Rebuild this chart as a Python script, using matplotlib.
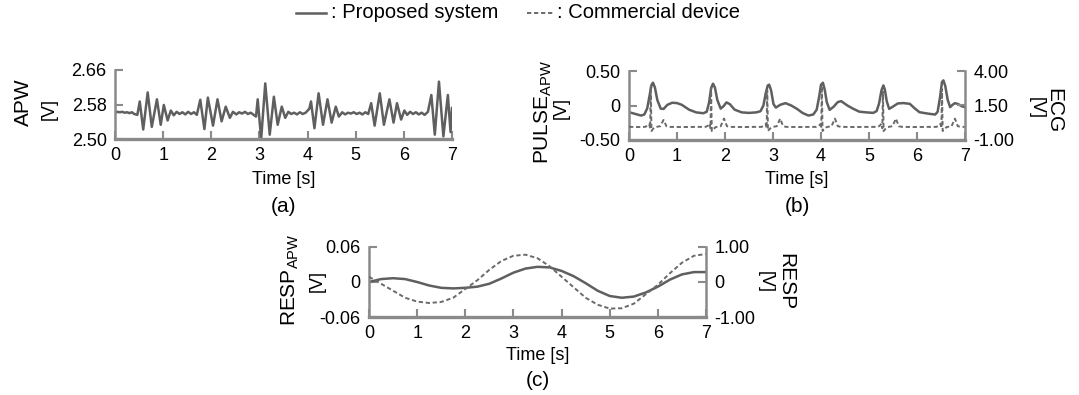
import matplotlib
matplotlib.use("Agg")
import matplotlib.pyplot as plt
from matplotlib.lines import Line2D

plt.rcParams['font.family'] = ['Liberation Sans', 'DejaVu Sans']
plt.rcParams['mathtext.fontset'] = 'custom'
plt.rcParams['mathtext.rm'] = 'Liberation Sans'
plt.rcParams['mathtext.it'] = 'Liberation Sans'

W, H = 1079, 395

# ---------------- data ----------------
time_ticks = [0, 1, 2, 3, 4, 5, 6, 7]

# (a) APW of proposed system
apw_t = [0.00, 0.05, 0.10, 0.15, 0.20, 0.25, 0.30, 0.35, 0.40, 0.464,
         0.514, 0.586, 0.679, 0.764, 0.871, 0.950, 1.014, 1.093,
         1.16, 1.22, 1.28, 1.34, 1.40, 1.46, 1.52, 1.58, 1.64, 1.70,
         1.771, 1.857, 1.929, 2.036, 2.129, 2.214, 2.300, 2.386,
         2.45, 2.52, 2.58, 2.64, 2.70, 2.76, 2.82, 2.88,
         2.929, 2.964, 3.036, 3.121, 3.214, 3.300, 3.379, 3.464, 3.536,
         3.60, 3.66, 3.72, 3.78, 3.84, 3.90, 3.96,
         4.036, 4.071, 4.143, 4.229, 4.321, 4.414, 4.500, 4.586, 4.650,
         4.72, 4.78, 4.84, 4.90, 4.96, 5.02, 5.08, 5.14, 5.20, 5.26,
         5.321, 5.393, 5.500, 5.586, 5.700, 5.786, 5.857, 5.943,
         6.01, 6.07, 6.13, 6.19, 6.25, 6.31, 6.37, 6.43,
         6.500, 6.571, 6.643, 6.729, 6.821, 6.914, 6.970, 7.00]
apw_v = [2.561, 2.563, 2.562, 2.563, 2.561, 2.562, 2.560, 2.562, 2.558, 2.556,
         2.587, 2.522, 2.608, 2.528, 2.592, 2.533, 2.579, 2.543,
         2.566, 2.555, 2.563, 2.558, 2.562, 2.557, 2.563, 2.558, 2.562, 2.556,
         2.591, 2.523, 2.596, 2.531, 2.592, 2.541, 2.575, 2.549,
         2.563, 2.557, 2.562, 2.559, 2.563, 2.558, 2.561, 2.556,
         2.552, 2.592, 2.500, 2.629, 2.510, 2.598, 2.533, 2.575, 2.549,
         2.563, 2.558, 2.561, 2.557, 2.562, 2.558, 2.561,
         2.570, 2.587, 2.525, 2.606, 2.533, 2.592, 2.538, 2.575, 2.552,
         2.562, 2.557, 2.561, 2.559, 2.562, 2.558, 2.561, 2.557, 2.562, 2.558,
         2.583, 2.531, 2.606, 2.533, 2.592, 2.538, 2.583, 2.545,
         2.566, 2.556, 2.563, 2.558, 2.562, 2.557, 2.561, 2.556,
         2.563, 2.602, 2.510, 2.633, 2.506, 2.602, 2.516, 2.572]

# (b) PULSE_APW of proposed system
pulse_t = [0.00, 0.12, 0.25, 0.32, 0.38, 0.43, 0.47, 0.50, 0.54, 0.59, 0.66, 0.72, 0.80, 0.90,
           1.00, 1.10, 1.25, 1.40, 1.55, 1.62, 1.67, 1.71, 1.75, 1.79, 1.84, 1.91, 1.97, 2.03,
           2.10, 2.20, 2.35, 2.50, 2.65, 2.74, 2.80, 2.85, 2.89, 2.92, 2.96, 3.01, 3.06, 3.15,
           3.26, 3.38, 3.50, 3.62, 3.74, 3.84, 3.91, 3.96, 4.00, 4.04, 4.08, 4.12, 4.18, 4.26,
           4.35, 4.42, 4.55, 4.65, 4.80, 4.95, 5.09, 5.16, 5.21, 5.26, 5.30, 5.33, 5.37, 5.42,
           5.49, 5.60, 5.72, 5.85, 5.95, 6.05, 6.25, 6.38, 6.43, 6.48, 6.52, 6.55, 6.59, 6.64,
           6.69, 6.74, 6.79, 6.86, 6.93, 7.00]
pulse_v = [-0.097, -0.120, -0.146, -0.130, -0.040, 0.150, 0.300, 0.330, 0.260, 0.080, -0.045, -0.050, 0.010, 0.040,
           0.035, 0.010, -0.060, -0.100, -0.112, -0.090, 0.050, 0.250, 0.316, 0.260, 0.080, -0.045, -0.010, 0.045,
           0.020, -0.060, -0.100, -0.107, -0.100, -0.083, 0.000, 0.180, 0.290, 0.301, 0.220, 0.020, -0.030, 0.010,
           0.034, 0.000, -0.049, -0.110, -0.146, -0.130, -0.060, 0.120, 0.300, 0.330, 0.220, 0.050, -0.063, -0.020,
           0.050, 0.063, 0.000, -0.040, -0.090, -0.100, -0.107, -0.080, 0.030, 0.220, 0.291, 0.230, 0.060, -0.049,
           -0.020, 0.030, 0.035, 0.024, -0.040, -0.097, -0.120, -0.131, -0.090, 0.120, 0.340, 0.364, 0.280, 0.080,
           -0.024, 0.010, 0.034, 0.020, -0.010, -0.024]

# (b) ECG of commercial device
ecg_t = [0.00, 0.20, 0.33, 0.38, 0.42, 0.441, 0.453, 0.468, 0.50, 0.55, 0.65, 0.72, 0.78, 0.85,
         1.10, 1.45, 1.59, 1.64, 1.68, 1.698, 1.710, 1.725, 1.76, 1.81, 1.91, 1.98, 2.04, 2.11,
         2.40, 2.62, 2.76, 2.81, 2.85, 2.868, 2.880, 2.895, 2.93, 2.98, 3.08, 3.15, 3.21, 3.28,
         3.55, 3.80, 3.90, 3.95, 3.99, 4.005, 4.017, 4.032, 4.07, 4.12, 4.22, 4.29, 4.35, 4.42,
         4.70, 5.00, 5.17, 5.22, 5.26, 5.278, 5.290, 5.305, 5.34, 5.39, 5.49, 5.56, 5.62, 5.69,
         5.95, 6.25, 6.40, 6.45, 6.49, 6.508, 6.520, 6.535, 6.57, 6.62, 6.72, 6.79, 6.85, 6.92, 7.00]
ecg_v = [-0.05, -0.06, -0.05, 0.02, 0.15, -0.15, 2.90, -0.35, -0.20, -0.06, 0.00, 0.45, 0.00, -0.05,
         -0.06, -0.05, -0.05, 0.02, 0.18, -0.15, 2.80, -0.35, -0.20, -0.06, 0.00, 0.55, 0.00, -0.05,
         -0.06, -0.05, -0.05, 0.02, 0.15, -0.15, 2.60, -0.35, -0.20, -0.06, 0.00, 0.55, 0.00, -0.05,
         -0.06, -0.05, -0.05, 0.02, 0.15, -0.15, 2.90, -0.35, -0.20, -0.06, 0.00, 0.55, 0.00, -0.05,
         -0.06, -0.05, -0.05, 0.02, 0.18, -0.15, 2.50, -0.35, -0.20, -0.06, 0.00, 0.55, 0.00, -0.05,
         -0.06, -0.05, -0.05, 0.02, 0.18, -0.15, 2.70, -0.35, -0.20, -0.06, 0.00, 0.55, 0.00, -0.05, -0.05]

# (c) RESP_APW of proposed system and RESP of commercial device
resp_t = [0.00, 0.25, 0.50, 0.75, 1.00, 1.25, 1.50, 1.75, 2.00, 2.25, 2.50, 2.75, 3.00, 3.25,
          3.50, 3.75, 4.00, 4.25, 4.50, 4.75, 5.00, 5.25, 5.50, 5.75, 6.00, 6.25, 6.50, 6.75, 7.00]
resp_apw_v = [0.000, 0.005, 0.0065, 0.005, 0.000, -0.006, -0.010, -0.011, -0.010, -0.008, -0.003,
              0.006, 0.016, 0.023, 0.026, 0.025, 0.019, 0.010, -0.002, -0.015, -0.024, -0.027,
              -0.025, -0.018, -0.008, 0.004, 0.013, 0.017, 0.017]
resp_dev_v = [0.15, -0.05, -0.25, -0.45, -0.56, -0.60, -0.57, -0.45, -0.20, 0.05, 0.35, 0.60, 0.75,
              0.78, 0.68, 0.45, 0.15, -0.15, -0.45, -0.65, -0.76, -0.75, -0.62, -0.35, -0.08, 0.25,
              0.55, 0.75, 0.80]

apw_ticks = [2.50, 2.58, 2.66]
apw_labels = ['2.50', '2.58', '2.66']
pulse_ticks = [-0.5, 0.0, 0.5]
pulse_labels = ['-0.50', '0', '0.50']
ecg_ticks = [-1.0, 1.5, 4.0]
ecg_labels = ['-1.00', '1.50', '4.00']
resp_apw_ticks = [-0.06, 0.0, 0.06]
resp_apw_labels = ['-0.06', '0', '0.06']
resp_ticks = [-1.0, 0.0, 1.0]
resp_labels = ['-1.00', '0', '1.00']

legend_labels = [': Proposed system', ': Commercial device']

# ---------------- style ----------------
LINE = '#5f5f5f'
DASH = '#6a6a6a'
SPINE = '#8a8a8a'
TICK_FS = 13
LAB_FS = 15

fig = plt.figure(figsize=(W / 100, H / 100), dpi=100)


def fx(x):
    return x / W


def fy(y):
    return 1 - y / H


def make_axes(x0, x1, y0, y1):
    return fig.add_axes([fx(x0), fy(y1), (x1 - x0) / W, (y1 - y0) / H])


def style(ax, right=False):
    ax.spines['top'].set_visible(False)
    if right:
        ax.spines['left'].set_visible(False)
        ax.spines['bottom'].set_visible(False)
        ax.spines['right'].set_color(SPINE)
        ax.spines['right'].set_linewidth(1.8)
        ax.tick_params(axis='y', direction='in', length=6, width=1.5, color=SPINE,
                       labelsize=TICK_FS, pad=6, right=True, left=False)
    else:
        ax.spines['right'].set_visible(False)
        for s in ['left', 'bottom']:
            ax.spines[s].set_color(SPINE)
            ax.spines[s].set_linewidth(1.8)
        ax.spines['bottom'].set_linewidth(2.4)
        ax.tick_params(axis='both', direction='in', length=6, width=1.5, color=SPINE,
                       labelsize=TICK_FS)
        ax.tick_params(axis='x', pad=6)
        ax.tick_params(axis='y', pad=6)
        ax.set_xlim(0, 7)
        ax.set_xticks(time_ticks)
        ax.set_xticklabels([str(t) for t in time_ticks])


# (a)
axa = make_axes(115, 452, 70, 139)
axa.plot(apw_t, apw_v, color=LINE, lw=1.8, solid_joinstyle='round')
axa.set_ylim(apw_ticks[0], apw_ticks[-1])
axa.set_yticks(apw_ticks)
axa.set_yticklabels(apw_labels)
style(axa)

# (b)
axb = make_axes(629, 965, 71, 140)
axb.plot(pulse_t, pulse_v, color=LINE, lw=1.8, solid_joinstyle='round')
axb.set_ylim(pulse_ticks[0], pulse_ticks[-1])
axb.set_yticks(pulse_ticks)
axb.set_yticklabels(pulse_labels)
style(axb)
axb2 = axb.twinx()
axb2.plot(ecg_t, ecg_v, color=DASH, lw=1.4, dashes=(2.2, 1.4))
axb2.set_ylim(ecg_ticks[0], ecg_ticks[-1])
axb2.set_yticks(ecg_ticks)
axb2.set_yticklabels(ecg_labels)
style(axb2, right=True)

# (c)
axc = make_axes(369, 706, 247, 317)
axc.plot(resp_t, resp_apw_v, color=LINE, lw=1.8)
axc.set_ylim(resp_apw_ticks[0], resp_apw_ticks[-1])
axc.set_yticks(resp_apw_ticks)
axc.set_yticklabels(resp_apw_labels)
style(axc)
axc2 = axc.twinx()
axc2.plot(resp_t, resp_dev_v, color=DASH, lw=1.4, dashes=(2.2, 1.4))
axc2.set_ylim(resp_ticks[0], resp_ticks[-1])
axc2.set_yticks(resp_ticks)
axc2.set_yticklabels(resp_labels)
style(axc2, right=True)


def label(x, y, s, size, rot):
    fig.text(fx(x), fy(y), s, fontsize=size, rotation=rot, ha='center', va='center')


# y labels
label(23, 102, 'APW', LAB_FS, 90)
label(49, 109, '[V]', TICK_FS, 90)
label(543, 112, r'PULSE$_{\mathrm{APW}}$', LAB_FS, 90)
label(561, 108, '[V]', TICK_FS, 90)
label(1054, 111, 'ECG', LAB_FS, 270)
label(1036, 108, '[V]', TICK_FS, 270)
label(290, 280, r'RESP$_{\mathrm{APW}}$', LAB_FS, 90)
label(317, 281, '[V]', TICK_FS, 90)
label(765, 282, '[V]', TICK_FS, 270)
label(786, 282, 'RESP', LAB_FS, 270)

# x labels and panel letters
for cx, ty, py, letter in [(283.5, 180, 207, '(a)'), (797, 180, 207, '(b)'), (537.5, 356, 381, '(c)')]:
    label(cx, ty, 'Time [s]', TICK_FS, 0)
    label(cx, py, letter, LAB_FS, 0)

# legend
fig.add_artist(Line2D([fx(296), fx(326)], [fy(13), fy(13)], color=LINE, lw=1.8,
                      transform=fig.transFigure))
fig.text(fx(331), fy(13), legend_labels[0], fontsize=14.5, ha='left', va='center')
fig.add_artist(Line2D([fx(527), fx(553)], [fy(13), fy(13)], color=DASH, lw=1.4,
                      dashes=(2.2, 1.4), transform=fig.transFigure))
fig.text(fx(557), fy(13), legend_labels[1], fontsize=14.5, ha='left', va='center')

fig.savefig('out.png', dpi=100)
